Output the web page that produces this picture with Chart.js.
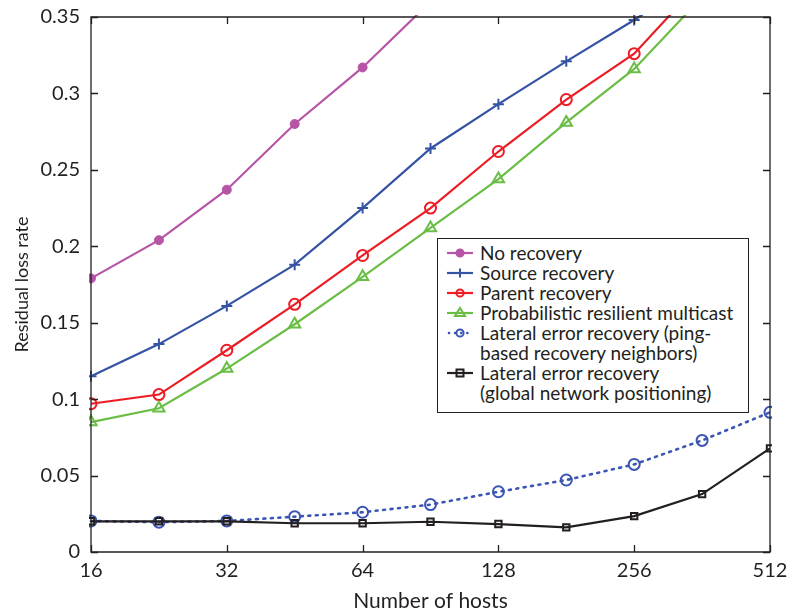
<!DOCTYPE html>
<html>
<head>
<meta charset="utf-8">
<script src="https://cdn.jsdelivr.net/npm/chart.js@4"></script>
<style>
  html, body { margin: 0; padding: 0; background: #fff; }
  #wrap { position: relative; width: 787px; height: 614px; }
  #legend {
    position: absolute; left: 437px; top: 238px; width: 312px; height: 175px;
    border: 1px solid #231f20; background: #fff; box-sizing: border-box;
    font-family: Lato, "Open Sans", sans-serif; font-size: 19px; color: #231f20;
    padding-top: 4px;
  }
  .item { display: flex; align-items: flex-start; }
  .item svg { flex: none; margin-left: 8px; margin-right: 6px; }
  .item .txt { line-height: 20px; white-space: nowrap; }
</style>
</head>
<body>
<div id="wrap">
  <canvas id="c" width="787" height="614"></canvas>
  <div id="legend"></div>
</div>
<script>
// ---- data ----
const hosts = [16, 22.63, 32, 45.25, 64, 90.51, 128, 181.02, 256, 362.04, 512];
const xTicks = [16, 32, 64, 128, 256, 512];
const xTickLabels = ['16', '32', '64', '128', '256', '512'];
const yTicks = [0, 0.05, 0.1, 0.15, 0.2, 0.25, 0.3, 0.35];
const yTickLabels = ['0', '0.05', '0.1', '0.15', '0.2', '0.25', '0.3', '0.35'];

const seriesNames = [
  'No recovery',
  'Source recovery',
  'Parent recovery',
  'Probabilistic resilient multicast',
  'Lateral error recovery (ping-\nbased recovery neighbors)',
  'Lateral error recovery\n(global network positioning)'
];
const noRecovery     = [0.179, 0.204, 0.237, 0.280, 0.317, 0.360];
const sourceRecovery = [0.115, 0.136, 0.161, 0.188, 0.225, 0.264, 0.293, 0.321, 0.348, 0.378];
const parentRecovery = [0.097, 0.103, 0.132, 0.162, 0.194, 0.225, 0.262, 0.296, 0.326, 0.374];
const probabilistic  = [0.085, 0.094, 0.120, 0.149, 0.180, 0.212, 0.244, 0.281, 0.316, 0.363];
const lateralPing    = [0.0203, 0.0195, 0.0203, 0.0231, 0.026, 0.031, 0.0394, 0.0471, 0.0573, 0.073, 0.0914];
const lateralGnp     = [0.0201, 0.0201, 0.0201, 0.0188, 0.0188, 0.0198, 0.0183, 0.0161, 0.0235, 0.0379, 0.0678];

// ---- styles ----
const allValues = [noRecovery, sourceRecovery, parentRecovery, probabilistic, lateralPing, lateralGnp];
const colors  = ['#b654a6', '#3553a4', '#ed1c24', '#6abd45', '#3a55b4', '#231f20'];
const shapes  = ['circle', 'cross', 'circle', 'triangle', 'circle', 'rect'];
const radii   = [4.5, 5.5, 5.5, 6.5, 5.5, 4.5];
const filled  = [true, false, false, false, false, false];
const dashes  = [[], [], [], [], [2, 5.5], []];

const datasets = allValues.map((vals, i) => ({
  label: seriesNames[i],
  data: vals.map((v, k) => ({ x: hosts[k], y: v })),
  borderColor: colors[i],
  backgroundColor: filled[i] ? colors[i] : 'rgba(0,0,0,0)',
  borderWidth: i === 4 ? 2.6 : 2.2,
  borderDash: dashes[i],
  borderCapStyle: i === 4 ? 'round' : 'butt',
  pointStyle: shapes[i],
  pointRadius: radii[i],
  pointBorderWidth: filled[i] ? 1 : 2,
  pointBorderColor: colors[i],
  pointBackgroundColor: filled[i] ? colors[i] : 'rgba(0,0,0,0)',
  tension: 0,
  order: 6 - i,
  clip: 2
}));

const frame = {
  id: 'frame',
  afterDraw(chart) {
    const { ctx, chartArea: a, scales } = chart;
    ctx.save();
    ctx.strokeStyle = '#231f20';
    ctx.lineWidth = 1.3;
    ctx.beginPath();
    ctx.rect(a.left, a.top, a.right - a.left, a.bottom - a.top);
    ctx.stroke();
    const tl = 7;
    ctx.beginPath();
    xTicks.forEach(v => {
      const px = Math.round(scales.x.getPixelForValue(v)) + 0.5;
      ctx.moveTo(px, a.bottom); ctx.lineTo(px, a.bottom - tl);
      ctx.moveTo(px, a.top); ctx.lineTo(px, a.top + tl);
    });
    yTicks.forEach(v => {
      const py = Math.round(scales.y.getPixelForValue(v)) + 0.5;
      ctx.moveTo(a.left, py); ctx.lineTo(a.left + tl, py);
      ctx.moveTo(a.right, py); ctx.lineTo(a.right - tl, py);
    });
    ctx.stroke();
    ctx.restore();
  }
};

const font = 'Lato, "Open Sans", sans-serif';
new Chart(document.getElementById('c'), {
  type: 'line',
  data: { datasets },
  options: {
    responsive: false,
    animation: false,
    devicePixelRatio: 1,
    layout: { padding: { top: 17, right: 17, left: 0, bottom: 0 } },
    plugins: { legend: { display: false }, tooltip: { enabled: false } },
    scales: {
      x: {
        type: 'logarithmic',
        min: 16, max: 512,
        afterBuildTicks(s) { s.ticks = xTicks.map(v => ({ value: v })); },
        afterFit(s) { s.height = 62; s.paddingLeft = 0; s.paddingRight = 0; },
        grid: { display: false, drawTicks: false },
        border: { display: false },
        ticks: {
          padding: 7, color: '#231f20', font: { family: font, size: 20 },
          maxRotation: 0, autoSkip: false,
          callback: (v, i) => xTickLabels[i]
        },
        title: {
          display: true, text: 'Number of hosts', color: '#231f20',
          font: { family: font, size: 21 }, padding: { top: 0, bottom: 0 }
        }
      },
      y: {
        type: 'linear',
        min: 0, max: 0.35,
        afterBuildTicks(s) { s.ticks = yTicks.map(v => ({ value: v })); },
        afterFit(s) { s.width = 91; s.paddingTop = 0; s.paddingBottom = 0; },
        grid: { display: false, drawTicks: false },
        border: { display: false },
        ticks: {
          padding: 11, color: '#231f20', font: { family: font, size: 20 },
          callback: (v, i) => yTickLabels[i]
        },
        title: {
          display: true, text: 'Residual loss rate', color: '#231f20',
          font: { family: font, size: 18 }, padding: { top: 11, bottom: 0 }
        }
      }
    }
  },
  plugins: [frame]
});

// ---- HTML legend ----
function sample(i) {
  const c = colors[i];
  const line = i === 4
    ? `<line x1="3" y1="10" x2="27" y2="10" stroke="${c}" stroke-width="2.6" stroke-dasharray="0.1 6" stroke-linecap="round"/>`
    : `<line x1="1" y1="10" x2="27" y2="10" stroke="${c}" stroke-width="2.2"/>`;
  let m = '';
  const fill = filled[i] ? c : 'none';
  if (shapes[i] === 'circle') m = `<circle cx="14" cy="10" r="3.6" fill="${fill}" stroke="${c}" stroke-width="2"/>`;
  if (shapes[i] === 'cross') m = `<line x1="14" y1="5.5" x2="14" y2="14.5" stroke="${c}" stroke-width="2"/>`;
  if (shapes[i] === 'triangle') m = `<polygon points="14,5 19,13 9,13" fill="none" stroke="${c}" stroke-width="2"/>`;
  if (shapes[i] === 'rect') m = `<rect x="10.5" y="6.5" width="7" height="7" fill="none" stroke="${c}" stroke-width="2"/>`;
  return `<svg width="28" height="20" viewBox="0 0 28 20">${line}${m}</svg>`;
}
const lg = document.getElementById('legend');
seriesNames.forEach((n, i) => {
  const d = document.createElement('div');
  d.className = 'item';
  d.innerHTML = sample(i) + `<div class="txt">${n.replace('\n', '<br>')}</div>`;
  lg.appendChild(d);
});
</script>
</body>
</html>
